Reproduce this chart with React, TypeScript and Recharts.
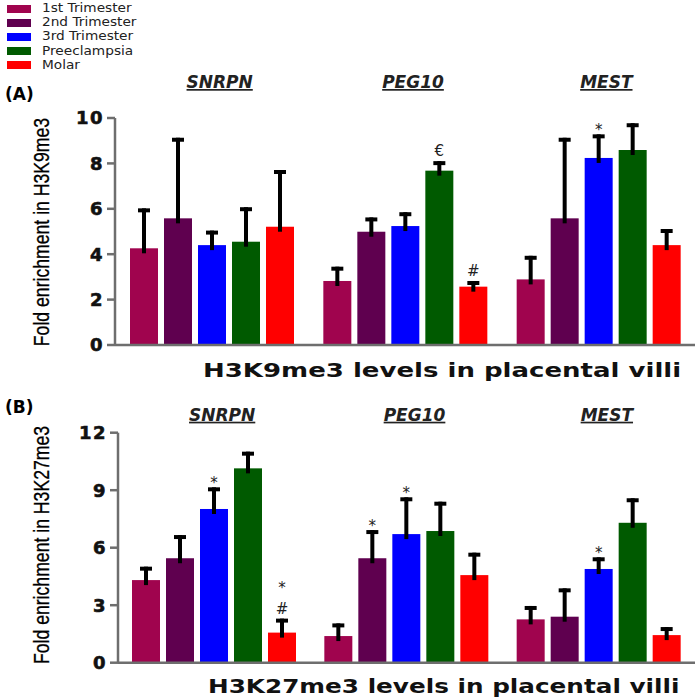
import type { FC } from 'react';
import { Bar, BarChart, XAxis, YAxis } from 'recharts';

const genes = ['SNRPN', 'PEG10', 'MEST'];
const seriesNames = ['1st Trimester', '2nd Trimester', '3rd Trimester', 'Preeclampsia', 'Molar'];
const seriesColors = ['#A0044E', '#5F004F', '#0000FF', '#005A00', '#FF0000'];

// panel A: H3K9me3, mean and upper SD per gene
const k9First = [4.26, 2.82, 2.89];
const k9Second = [5.58, 4.99, 5.58];
const k9Third = [4.4, 5.24, 8.24];
const k9Pre = [4.55, 7.68, 8.59];
const k9Molar = [5.21, 2.57, 4.4];
const k9FirstSd = [1.76, 0.63, 1.04];
const k9SecondSd = [3.55, 0.63, 3.55];
const k9ThirdSd = [0.64, 0.61, 1.04];
const k9PreSd = [1.52, 0.42, 1.18];
const k9MolarSd = [2.5, 0.25, 0.71];
const k9Notes = [
  ['', '', ''],
  ['', '', ''],
  ['', '', '*'],
  ['', '€', ''],
  ['', '#', ''],
];
const k9Ticks = [0, 2, 4, 6, 8, 10];

// panel B: H3K27me3
const k27First = [4.31, 1.39, 2.26];
const k27Second = [5.45, 5.45, 2.4];
const k27Third = [8.02, 6.71, 4.89];
const k27Pre = [10.14, 6.87, 7.3];
const k27Molar = [1.57, 4.57, 1.44];
const k27FirstSd = [0.7, 0.66, 0.7];
const k27SecondSd = [1.21, 1.47, 1.48];
const k27ThirdSd = [1.13, 1.92, 0.61];
const k27PreSd = [0.87, 1.53, 1.28];
const k27MolarSd = [0.73, 1.17, 0.42];
const k27Notes = [
  ['', '', ''],
  ['', '*', ''],
  ['*', '*', '*'],
  ['', '', ''],
  ['*\n#', '', ''],
];
const k27Ticks = [0, 3, 6, 9, 12];

const buildRows = (means: number[][], sds: number[][], notes: string[][]) =>
  genes.map((gene, gi) => {
    const row: Record<string, any> = { gene };
    means.forEach((m, si) => {
      row[`v${si}`] = m[gi];
      row[`e${si}`] = sds[si][gi];
      row[`n${si}`] = notes[si][gi];
    });
    return row;
  });

const k9Rows = buildRows(
  [k9First, k9Second, k9Third, k9Pre, k9Molar],
  [k9FirstSd, k9SecondSd, k9ThirdSd, k9PreSd, k9MolarSd],
  k9Notes,
);
const k27Rows = buildRows(
  [k27First, k27Second, k27Third, k27Pre, k27Molar],
  [k27FirstSd, k27SecondSd, k27ThirdSd, k27PreSd, k27MolarSd],
  k27Notes,
);

const AXIS = '#6e6e6e';
const BOLD = 'DejaVu Sans';

// bar + upper error bar + significance mark, scaled from the bar's own pixel height
const makeShape = (i: number) => (props: any) => {
  const { x, y, width, height, payload } = props;
  const v = payload[`v${i}`];
  const sd = payload[`e${i}`];
  const note: string = payload[`n${i}`] || '';
  const top = y - (sd * height) / v;
  const cx = x + width / 2;
  const lines = note ? note.split('\n') : [];
  const stacked = lines.length > 1;
  return (
    <g>
      <rect x={x} y={y} width={width} height={height} fill={seriesColors[i]} />
      <line x1={cx} x2={cx} y1={y + 5} y2={top} stroke="#000" strokeWidth={4} />
      <line x1={cx - 6} x2={cx + 6} y1={top + 2} y2={top + 2} stroke="#000" strokeWidth={4} />
      {lines.map((t, k) => (
        <text
          key={k}
          x={cx}
          y={top - 5 - (lines.length - 1 - k) * 21 + (t === '*' && !stacked ? 6 : 0)}
          textAnchor="middle"
          fontSize={15}
          fontFamily="DejaVu Sans"
          fill="#222"
        >
          {t}
        </text>
      ))}
    </g>
  );
};

const makeGeneTick = (dy: number) => (props: any) => {
  const { x, y, payload } = props;
  return (
    <text
      x={x + 8}
      y={y + dy}
      textAnchor="middle"
      fontSize={17}
      fontWeight={700}
      fontStyle="italic"
      fontFamily={BOLD}
      fill="#222"
      style={{ textDecoration: 'underline' }}
    >
      {payload.value}
    </text>
  );
};

type PanelProps = {
  rows: Record<string, any>[];
  ticks: number[];
  height: number;
  top: number;
  left: number;
  bottom: number;
  geneDy: number;
};

const Panel: FC<PanelProps> = ({ rows, ticks, height, top, left, bottom, geneDy }) => {
  const GeneTick = makeGeneTick(geneDy);
  return (
    <BarChart
      width={700}
      height={height}
      data={rows}
      margin={{ top, right: 5, left, bottom }}
      barSize={28}
      barGap={6}
    >
      <XAxis
        xAxisId="genes"
        dataKey="gene"
        orientation="top"
        axisLine={false}
        tickLine={false}
        height={30}
        tick={<GeneTick />}
      />
      <XAxis dataKey="gene" height={10} tick={false} tickSize={5} stroke={AXIS} strokeWidth={2.5} />
      <YAxis
        domain={[ticks[0], ticks[ticks.length - 1]]}
        ticks={ticks}
        interval={0}
        width={48}
        tickSize={8}
        tickMargin={3}
        stroke={AXIS}
        strokeWidth={2.5}
        tick={{
          fill: '#111',
          stroke: '#111',
          strokeWidth: 0.6,
          fontSize: 18,
          fontWeight: 700,
          fontFamily: BOLD,
          letterSpacing: 1.5,
        }}
      />
      {seriesNames.map((name, i) => (
        <Bar
          key={name}
          dataKey={`v${i}`}
          name={name}
          fill={seriesColors[i]}
          shape={makeShape(i)}
          isAnimationActive={false}
        />
      ))}
    </BarChart>
  );
};

const abs = (left: number, top: number, extra: Record<string, any> = {}) => ({
  position: 'absolute' as const,
  left,
  top,
  ...extra,
});

const App: FC = () => {
  return (
    <div style={abs(0, 0, { width: 700, height: 700, background: '#fff', overflow: 'hidden' })}>
      {/* legend */}
      {seriesNames.map((name, i) => (
        <div key={name} style={abs(7, 4 + i * 14.2, { display: 'flex', alignItems: 'center', height: 9 })}>
          <div style={{ width: 24, height: 8, background: seriesColors[i] }} />
          <div
            style={{
              marginLeft: 11,
              fontFamily: 'DejaVu Sans',
              fontSize: 12,
              color: '#222',
              transform: 'scaleX(1.14)',
              transformOrigin: 'left center',
              whiteSpace: 'nowrap',
              lineHeight: '9px',
            }}
          >
            {name}
          </div>
        </div>
      ))}

      <div style={abs(5, 84, { fontFamily: BOLD, fontWeight: 700, fontSize: 17 })}>(A)</div>
      <div style={abs(5, 397, { fontFamily: BOLD, fontWeight: 700, fontSize: 17 })}>(B)</div>

      <div style={abs(0, 0)}>
        <Panel rows={k9Rows} ticks={k9Ticks} height={360} top={88} left={67} bottom={5} geneDy={-22} />
      </div>
      <div style={abs(0, 380)}>
        <Panel rows={k27Rows} ticks={k27Ticks} height={320} top={22.7} left={70} bottom={27.3} geneDy={-4} />
      </div>

      {/* y titles */}
      {[
        { text: 'Fold enrichment in H3K9me3', cy: 232 },
        { text: 'Fold enrichment in H3K27me3', cy: 545 },
      ].map((t) => (
        <div
          key={t.text}
          style={abs(42, t.cy, {
            fontFamily: 'Liberation Sans',
            fontSize: 21.5,
            color: '#000',
            whiteSpace: 'nowrap',
            lineHeight: '22px',
            WebkitTextStroke: '0.3px #000',
            transform: 'translate(-50%, -50%) rotate(-90deg) scaleX(0.82)',
          })}
        >
          {t.text}
        </div>
      ))}

      {/* x titles */}
      <div
        style={abs(203, 358, {
          fontFamily: BOLD,
          fontWeight: 700,
          fontSize: 20,
          color: '#111',
          whiteSpace: 'nowrap',
          transform: 'scaleX(1.3)',
          transformOrigin: 'left top',
        })}
      >
        H3K9me3 levels in placental villi
      </div>
      <div
        style={abs(208, 674, {
          fontFamily: BOLD,
          fontWeight: 700,
          fontSize: 20,
          color: '#111',
          whiteSpace: 'nowrap',
          transform: 'scaleX(1.235)',
          transformOrigin: 'left top',
        })}
      >
        H3K27me3 levels in placental villi
      </div>
    </div>
  );
};

export default App;
